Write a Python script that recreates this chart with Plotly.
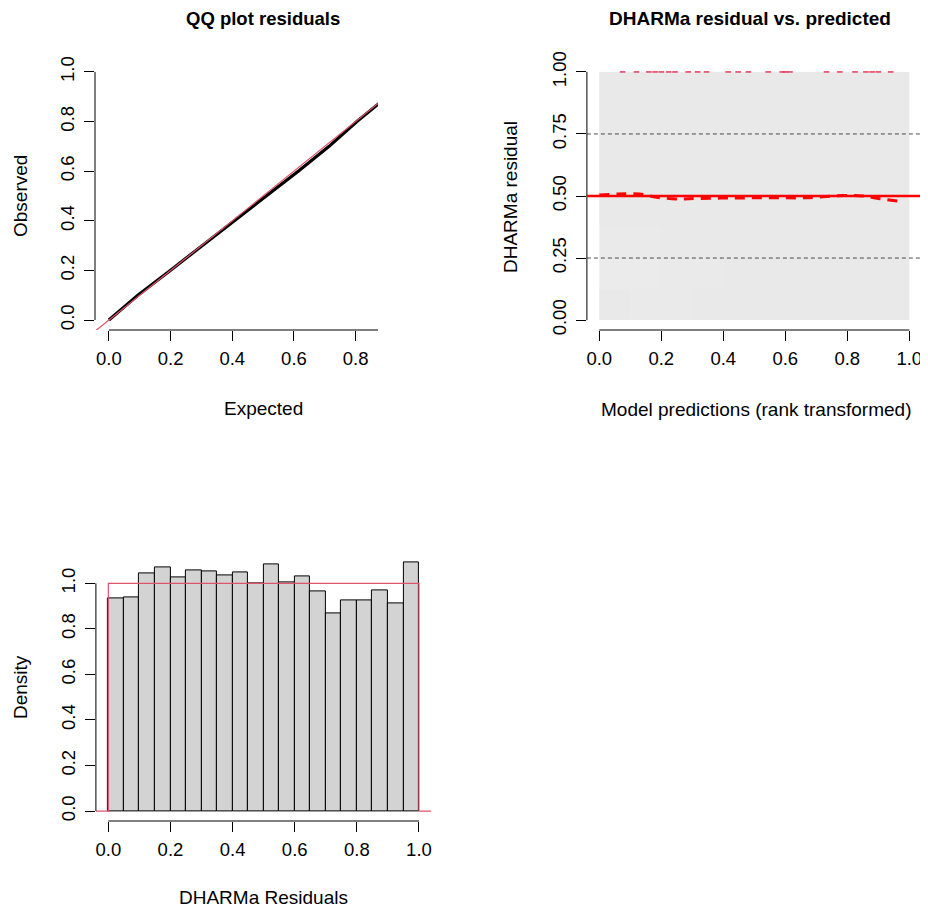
import plotly.graph_objects as go

OFF = 8  # page offset of the plot div inside the browser window
W, H = 928 - OFF, 915 - 2 * OFF
FONT = "Liberation Sans, Arial, Helvetica, sans-serif"

# ---------------- data ----------------
# QQ plot (expected vs observed quantiles of scaled residuals)
qq_expected = [0.0, 0.094, 0.199, 0.304, 0.408, 0.510, 0.614, 0.714, 0.804, 0.899, 1.0]
qq_observed = [0.0, 0.1, 0.2, 0.3, 0.4, 0.5, 0.6, 0.7, 0.8, 0.9, 1.0]
qq_ref = [-0.1, 1.1]

# Residual vs predicted: coarse density of the point cloud (rows = residual bands, bottom->top)
cloud_density = [
    [0.53, 0.50, 0.51, 0.53, 0.54, 0.53, 0.52, 0.53, 0.54, 0.53],
    [0.46, 0.47, 0.49, 0.51, 0.52, 0.52, 0.52, 0.52, 0.53, 0.52],
    [0.51, 0.50, 0.52, 0.52, 0.52, 0.53, 0.52, 0.53, 0.52, 0.53],
    [0.52, 0.52, 0.52, 0.52, 0.53, 0.52, 0.53, 0.52, 0.53, 0.52],
    [0.52, 0.53, 0.52, 0.53, 0.52, 0.53, 0.52, 0.53, 0.52, 0.53],
    [0.52, 0.52, 0.53, 0.52, 0.52, 0.52, 0.53, 0.52, 0.53, 0.52],
    [0.53, 0.52, 0.52, 0.53, 0.52, 0.52, 0.52, 0.53, 0.52, 0.53],
    [0.52, 0.53, 0.52, 0.52, 0.53, 0.52, 0.53, 0.52, 0.53, 0.52],
]
cloud_x_centers = [0.05, 0.15, 0.25, 0.35, 0.45, 0.55, 0.65, 0.75, 0.85, 0.95]
cloud_y_centers = [0.0625, 0.1875, 0.3125, 0.4375, 0.5625, 0.6875, 0.8125, 0.9375]

outlier_x = [0.075, 0.12, 0.16, 0.18, 0.20, 0.224, 0.244, 0.287, 0.317, 0.346,
             0.416, 0.448, 0.481, 0.545, 0.59, 0.60, 0.615, 0.733, 0.776, 0.825,
             0.86, 0.88, 0.90, 0.94]
outlier_y = [1.0] * len(outlier_x)

q50_x = [0.0, 0.06, 0.13, 0.185, 0.25, 0.315, 0.43, 0.55, 0.67, 0.79, 0.85, 0.905, 0.98]
q50_y = [0.504, 0.508, 0.508, 0.495, 0.488, 0.490, 0.492, 0.493, 0.493, 0.502, 0.500, 0.489, 0.477]
quantile_levels = [0.25, 0.5, 0.75]

# Histogram of residuals
hist_breaks = [0.0, 0.05, 0.1, 0.15, 0.2, 0.25, 0.3, 0.35, 0.4, 0.45, 0.5,
               0.55, 0.6, 0.65, 0.7, 0.75, 0.8, 0.85, 0.9, 0.95, 1.0]
hist_density = [0.932, 0.939, 1.043, 1.072, 1.028, 1.055, 1.052, 1.035, 1.046, 1.001,
                1.081, 1.003, 1.030, 0.963, 0.870, 0.926, 0.926, 0.970, 0.912, 1.092]
unif_x = [-0.04, 0.0, 0.0, 1.0, 1.0, 1.04]
unif_y = [0.0, 0.0, 1.0, 1.0, 0.0, 0.0]

# tick labels
ticks_10 = [0.0, 0.2, 0.4, 0.6, 0.8, 1.0]
ticks_10_text = ["0.0", "0.2", "0.4", "0.6", "0.8", "1.0"]
ticks_q = [0.0, 0.25, 0.5, 0.75, 1.0]
ticks_q_text = ["0.00", "0.25", "0.50", "0.75", "1.00"]

# ---------------- layout geometry (window pixels) ----------------
def px_x(a):
    return (a - OFF) / W

def px_y(b):
    return 1 - (b - OFF) / H

def px_dom_x(a, b):
    return [px_x(a), px_x(b)]

def px_dom_y(top, bottom):
    return [px_y(bottom), px_y(top)]

qq_xdom = px_dom_x(95, 378)
qq_ydom = px_dom_y(62, 330)
qq_xrange = [-0.045, 0.8725]
qq_yrange = [-0.04, 1.04]

rv_xdom = px_dom_x(586.9, 921.7)
rv_ydom = px_dom_y(62, 330)
rv_xrange = [-0.04, 1.04]
rv_yrange = [-0.04, 1.04]

hi_xdom = px_dom_x(95.9, 431.4)
hi_ydom = px_dom_y(552.4, 821)
hi_xrange = [-0.04, 1.04]
hmax = max(hist_density)
hi_yrange = [-0.04 * hmax, 1.04 * hmax]

fig = go.Figure()

# QQ plot
fig.add_trace(go.Scatter(x=qq_expected, y=qq_observed, mode="lines",
                         line=dict(color="black", width=3.2), xaxis="x", yaxis="y",
                         hoverinfo="skip"))
fig.add_trace(go.Scatter(x=qq_ref, y=qq_ref, mode="lines",
                         line=dict(color="#DF536B", width=1.2), xaxis="x", yaxis="y",
                         hoverinfo="skip"))

# residual vs predicted
fig.add_trace(go.Heatmap(z=cloud_density, x=cloud_x_centers, y=cloud_y_centers,
                         colorscale=[[0, "#fbfbfb"], [1, "#d9d9d9"]], zmin=0, zmax=1,
                         showscale=False, xaxis="x2", yaxis="y2", hoverinfo="skip"))
fig.add_trace(go.Scatter(x=q50_x, y=q50_y, mode="lines",
                         line=dict(color="#FF0000", width=3, dash="10px,7px", shape="spline"),
                         xaxis="x2", yaxis="y2", hoverinfo="skip"))
fig.add_trace(go.Scatter(x=outlier_x, y=outlier_y, mode="markers",
                         marker=dict(symbol="line-ew", size=4,
                                     line=dict(color="#E8375A", width=1.5)),
                         xaxis="x2", yaxis="y2", hoverinfo="skip", cliponaxis=False))

# histogram
centers = [(hist_breaks[i] + hist_breaks[i + 1]) / 2 for i in range(len(hist_density))]
widths = [hist_breaks[i + 1] - hist_breaks[i] for i in range(len(hist_density))]
fig.add_trace(go.Bar(x=centers, y=hist_density, width=widths,
                     marker=dict(color="#D3D3D3", line=dict(color="black", width=1)),
                     xaxis="x3", yaxis="y3", hoverinfo="skip"))
fig.add_trace(go.Scatter(x=unif_x, y=unif_y, mode="lines",
                         line=dict(color="#DF536B", width=1.2), xaxis="x3", yaxis="y3",
                         hoverinfo="skip"))

tickfont = dict(family=FONT, size=18.5, color="black")

def xax(dom, rng, anchor, tv, tt):
    return dict(domain=dom, range=rng, anchor=anchor, tickmode="array", tickvals=tv,
                ticktext=tt, showgrid=False, zeroline=False, showline=False,
                ticks="outside", ticklen=10, tickwidth=1, tickcolor="black",
                tickfont=tickfont, ticklabelstandoff=2, fixedrange=True, automargin=False)

def yax(dom, rng, anchor, tv, tt):
    return dict(domain=dom, range=rng, anchor=anchor, tickmode="array", tickvals=tv,
                ticktext=tt, showgrid=False, zeroline=False, showline=False,
                ticks="outside", ticklen=10, tickwidth=1, tickcolor="black",
                tickfont=tickfont, tickangle=-90, ticklabelstandoff=3, fixedrange=True,
                automargin=False)

qq_xticks = [t for t in ticks_10 if qq_xrange[0] <= t <= qq_xrange[1]]
qq_xtext = [ticks_10_text[i] for i, t in enumerate(ticks_10) if t in qq_xticks]

layout = dict(
    width=W, height=H, autosize=False,
    margin=dict(l=0, r=0, t=0, b=0, pad=0, autoexpand=False),
    paper_bgcolor="white", plot_bgcolor="white", showlegend=False, bargap=0,
    xaxis=xax(qq_xdom, qq_xrange, "y", qq_xticks, qq_xtext),
    yaxis=yax(qq_ydom, qq_yrange, "x", ticks_10, ticks_10_text),
    xaxis2=xax(rv_xdom, rv_xrange, "y2", ticks_10, ticks_10_text),
    yaxis2=yax(rv_ydom, rv_yrange, "x2", ticks_q, ticks_q_text),
    xaxis3=xax(hi_xdom, hi_xrange, "y3", ticks_10, ticks_10_text),
    yaxis3=yax(hi_ydom, hi_yrange, "x3", ticks_10, ticks_10_text),
)
fig.update_layout(**layout)

# R-style axis lines (from first to last tick, clipped to plot region)
def to_paper(dom, rng, v):
    return dom[0] + (v - rng[0]) / (rng[1] - rng[0]) * (dom[1] - dom[0])

shapes = []
for xdom, xr, xt, ydom, yr, yt in [
    (qq_xdom, qq_xrange, ticks_10, qq_ydom, qq_yrange, ticks_10),
    (rv_xdom, rv_xrange, ticks_10, rv_ydom, rv_yrange, ticks_q),
    (hi_xdom, hi_xrange, ticks_10, hi_ydom, hi_yrange, ticks_10),
]:
    x_a = max(xt[0], xr[0]); x_b = min(xt[-1], xr[1])
    shapes.append(dict(type="line", xref="paper", yref="paper",
                       x0=to_paper(xdom, xr, x_a), x1=to_paper(xdom, xr, x_b),
                       y0=ydom[0], y1=ydom[0], line=dict(color="black", width=1)))
    y_a = max(yt[0], yr[0]); y_b = min(yt[-1], yr[1])
    shapes.append(dict(type="line", xref="paper", yref="paper",
                       x0=xdom[0], x1=xdom[0],
                       y0=to_paper(ydom, yr, y_a), y1=to_paper(ydom, yr, y_b),
                       line=dict(color="black", width=1)))

# quantile reference lines in residual plot
for q in quantile_levels:
    if q == 0.5:
        shapes.append(dict(type="line", xref="x2 domain", yref="y2", x0=0, x1=1, y0=q, y1=q,
                           line=dict(color="#FF0000", width=2.5)))
    else:
        shapes.append(dict(type="line", xref="x2 domain", yref="y2", x0=0, x1=1, y0=q, y1=q,
                           line=dict(color="#222222", width=0.8, dash="4px,3px")))
fig.update_layout(shapes=shapes)

def ann(text, xpx, ypx, size=19, bold=False, angle=0):
    return dict(text=f"<b>{text}</b>" if bold else text, x=px_x(xpx), y=px_y(ypx),
                xref="paper", yref="paper", showarrow=False, xanchor="center",
                yanchor="middle", textangle=angle,
                font=dict(family=FONT, size=size, color="black"))

fig.update_layout(annotations=[
    ann("QQ plot residuals", 263.5, 18, size=18.5, bold=True),
    ann("DHARMa residual vs. predicted", 750, 18, size=19, bold=True),
    ann("Expected", 263.5, 408),
    ann("Observed", 20, 196, angle=-90),
    ann("Model predictions (rank transformed)", 756, 409),
    ann("DHARMa residual", 510, 197, angle=-90),
    ann("DHARMa Residuals", 263.5, 897),
    ann("Density", 20, 687, angle=-90),
])

fig.write_html("out.html")
